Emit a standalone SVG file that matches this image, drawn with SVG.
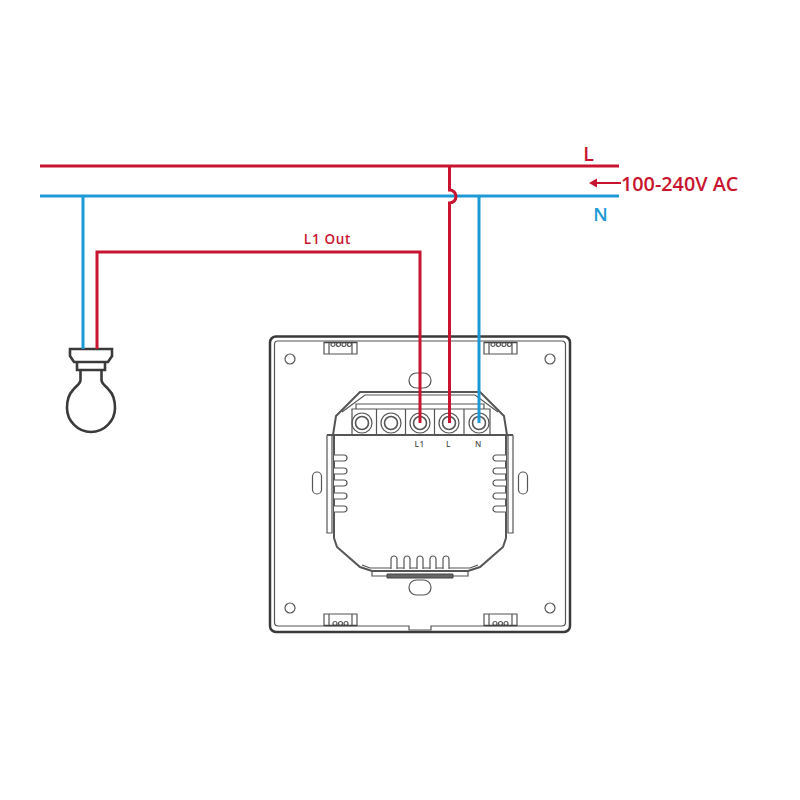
<svg xmlns="http://www.w3.org/2000/svg" width="800" height="800" viewBox="0 0 800 800">
<style>
.red{fill:none;stroke:#c9142f;stroke-width:3}
.blue{fill:none;stroke:#1d9ad6;stroke-width:3}
.g{fill:none;stroke:#555;stroke-width:1.200}
.m{fill:none;stroke:#555;stroke-width:2}
.k{fill:none;stroke:#3a3a3a;stroke-width:2.600}
text{font-family:"Open Sans","Liberation Sans",sans-serif;font-weight:600}
.t{font-size:8px;fill:#555;text-anchor:middle;letter-spacing:.6px}
</style>
<defs>
<g id="clipB">
<path class="g" d="M0 12V0H33V12"/><path class="g" d="M5 0V12M28 0V12"/>
<circle cx="11" cy="9.500" r="2" class="g"/><circle cx="16.500" cy="9.500" r="2" class="g"/><circle cx="22" cy="9.500" r="2" class="g"/>
<path d="M0 11.500H33" stroke="#444" stroke-width="1.400"/>
</g>
<g id="clipT">
<path class="g" d="M0 0V12H33V0"/><path class="g" d="M5 0V12M28 0V12"/>
<circle cx="9" cy="2.500" r="2" class="g"/><circle cx="14.500" cy="2.500" r="2" class="g"/><circle cx="20" cy="2.500" r="2" class="g"/><circle cx="25.500" cy="2.500" r="2" class="g"/>
<path d="M0 .5H33" stroke="#444" stroke-width="1.400"/>
</g>
<g id="term"><circle r="10" class="g"/><circle r="6.500" fill="none" stroke="#555" stroke-width="1.600"/></g>
<path id="finL" d="M13 0H3a3 3 0 0 0 0 6H13" fill="#fff" stroke="#555" stroke-width="1.200"/>
<path id="finR" d="M0 0H10a3 3 0 0 1 0 6H0" fill="#fff" stroke="#555" stroke-width="1.200"/>
<path id="finV" d="M0 13V3a3 3 0 0 1 6 0V13" fill="#fff" stroke="#555" stroke-width="1.200"/>
</defs>
<rect width="800" height="800" fill="#fff"/>
<g id="plate">
<path d="M276 336.500H564a6 6 0 0 1 6 6V626a6 6 0 0 1-6 6H276a6 6 0 0 1-6-6V342.500a6 6 0 0 1 6-6Z" fill="none" stroke="#3a3a3a" stroke-width="2.500"/>
<path d="M278 341H562a3.500 3.500 0 0 1 3.500 3.500V623a3.500 3.500 0 0 1-3.500 3H431V630H409V626H278a3.500 3.500 0 0 1-3.500-3V344.500A3.500 3.500 0 0 1 278 341Z" class="g"/>
<circle cx="290" cy="359" r="5" class="g"/><circle cx="550" cy="359" r="5" class="g"/>
<circle cx="290" cy="608" r="5" class="g"/><circle cx="550" cy="608" r="5" class="g"/>
<use href="#clipT" x="324" y="342"/><use href="#clipT" x="484" y="342"/>
<use href="#clipB" x="324" y="614"/><use href="#clipB" x="484" y="614"/>
<rect x="409" y="373" width="22" height="15" rx="7.500" class="g"/>
<rect x="409" y="580" width="22" height="15" rx="7.500" class="g"/>
<rect x="312.500" y="472" width="9" height="22" rx="4.500" class="g"/>
<rect x="518.500" y="472" width="9" height="22" rx="4.500" class="g"/>
</g>
<g id="module">
<path class="m" d="M333 435L336 416L360 392H480L504 416L507 435" stroke-width="2.200"/>
<path class="g" d="M342 412L365 395H475L498 412"/>
<path class="g" d="M356 409V404H484V409"/>
<path class="g" d="M352 434V409H490V434M376.500 409V434M405.500 409V434M434.500 409V434M464 409V434"/>
<path class="m" d="M327 435H513" stroke-width="2.600"/>
<path class="g" d="M327 435V533H332V435M513 435V533H508V435"/>
<path class="m" d="M334 435V538L337 547L360 567L372 571H468L480 567L503 547L506 538V435" stroke-width="2"/>
<path class="g" d="M362 565L370 568H470L478 565"/>
<path class="g" d="M372 571V576H387M468 571V576H453"/>
<path d="M387 574H453V578H387Z" fill="#666" stroke="#444" stroke-width="1"/>
<use href="#term" x="362" y="423"/><use href="#term" x="391" y="423"/><use href="#term" x="420" y="423"/><use href="#term" x="449" y="423"/><use href="#term" x="479" y="423"/>
<g id="fins">
<use href="#finR" x="334" y="455"/><use href="#finR" x="334" y="468"/><use href="#finR" x="334" y="480"/><use href="#finR" x="334" y="493"/><use href="#finR" x="334" y="506"/>
<use href="#finL" x="493" y="455"/><use href="#finL" x="493" y="468"/><use href="#finL" x="493" y="480"/><use href="#finL" x="493" y="493"/><use href="#finL" x="493" y="506"/>
<use href="#finV" x="391" y="556"/><use href="#finV" x="404" y="556"/><use href="#finV" x="417" y="556"/><use href="#finV" x="430" y="556"/><use href="#finV" x="443" y="556"/>
</g>
<text class="t" x="419.500" y="447">L1</text><text class="t" x="448.500" y="447">L</text><text class="t" x="478.500" y="447">N</text>
</g>
<g id="bulb">
<path class="k" d="M70 349H112V356L108 362H74L70 356Z"/>
<path class="k" d="M77 362V370H105V362"/>
<path class="k" d="M80.500 370V380C80.500 384 76 386 73 390C69 394 67 400 67 408C67 421 78 432 91 432C104 432 115 421 115 408C115 400 113 394 109 390C106 386 101.500 384 101.500 380V370"/>
</g>
<g id="connectors">
<path class="blue" d="M40 196H619M83 196V349M479 196V423"/>
<path class="red" d="M40 166H619"/>
<path class="red" d="M449.500 166V190A6 6 0 0 1 449.500 203V423"/>
<path class="red" d="M97 349V252H420V423"/>
<path d="M621 183H597" stroke="#c9142f" stroke-width="2" fill="none"/>
<path d="M589 183L597 178.500V187.500Z" fill="#c9142f"/>
</g>
<g id="labels">
<text x="588.500" y="161" font-size="19.500" fill="#c9142f" text-anchor="middle">L</text>
<text x="621" y="191" font-size="19.800" fill="#c9142f">100-240V AC</text>
<text x="600.500" y="221" font-size="18.500" fill="#1d9ad6" text-anchor="middle">N</text>
<text x="327.500" y="243.500" font-size="13.500" letter-spacing=".7" fill="#c9142f" text-anchor="middle">L1 Out</text>
</g>
</svg>
